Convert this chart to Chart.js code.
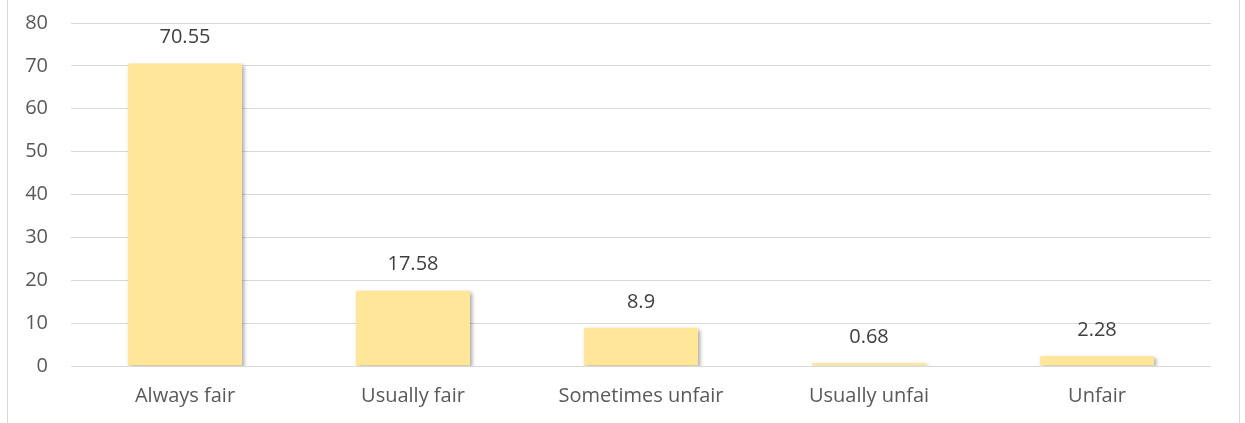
<!DOCTYPE html>
<html>
<head>
<meta charset="utf-8">
<script src="https://cdn.jsdelivr.net/npm/chart.js@4"></script>
<style>
  html, body { margin: 0; padding: 0; background: #fff; }
  #wrap { position: relative; width: 1245px; height: 423px; }
  #wrap:before, #wrap:after { content: ''; position: absolute; top: 0; bottom: 0; width: 1px; background: #d9d9d9; }
  #wrap:before { left: 7px; }
  #wrap:after { left: 1239px; }
</style>
</head>
<body>
<div id="wrap"><canvas id="fairChart" width="1245" height="423"></canvas></div>
<script>
// chart data
var categories = ['Always fair', 'Usually fair', 'Sometimes unfair', 'Usually unfai', 'Unfair']
var values = [70.55, 17.58, 8.9, 0.68, 2.28]
var yTicks = [0, 10, 20, 30, 40, 50, 60, 70, 80]

var font = '"Open Sans", "Liberation Sans", sans-serif'

// soft shadow behind the bars, like the office chart
var barShadow = {
    id: 'barShadow',
    beforeDatasetsDraw: function (chart) {
        var c = chart.ctx
        c.save()
        c.shadowColor = 'rgba(0, 0, 0, 0.35)'
        c.shadowBlur = 4
        c.shadowOffsetX = 2
        c.shadowOffsetY = 2
    },
    afterDatasetsDraw: function (chart) {
        chart.ctx.restore()
    }
}

// value labels above each bar
var valueLabels = {
    id: 'valueLabels',
    afterDraw: function (chart) {
        var c = chart.ctx
        var meta = chart.getDatasetMeta(0)
        c.save()
        c.font = '20px ' + font
        c.fillStyle = '#404040'
        c.textAlign = 'center'
        c.textBaseline = 'middle'
        meta.data.forEach(function (bar, i) {
            c.fillText(String(values[i]), bar.x, bar.y - 26)
        })
        c.restore()
    }
}

var ctx = document.getElementById('fairChart').getContext('2d')
var chart = new Chart(ctx, {
    type: 'bar',
    data: {
        labels: categories,
        datasets: [{
            data: values,
            backgroundColor: '#ffe699',
            borderWidth: 0,
            categoryPercentage: 1,
            barPercentage: 0.5
        }]
    },
    options: {
        responsive: false,
        animation: false,
        layout: { padding: { top: 23, right: 34, left: 0, bottom: 0 } },
        plugins: {
            legend: { display: false },
            tooltip: { enabled: false }
        },
        scales: {
            x: {
                grid: { display: false, drawTicks: false },
                border: { display: false },
                ticks: { color: '#595959', font: { family: font, size: 20 }, padding: 18 },
                afterFit: function (scale) {
                    scale.height = 57
                    scale.paddingLeft = 0
                    scale.paddingRight = 0
                }
            },
            y: {
                min: 0,
                max: 80,
                afterBuildTicks: function (scale) {
                    scale.ticks = yTicks.map(function (v) { return { value: v } })
                },
                grid: { color: '#d9d9d9', lineWidth: 1, drawTicks: false },
                border: { display: false },
                ticks: { color: '#595959', font: { family: font, size: 20 }, padding: 23 },
                afterFit: function (scale) {
                    scale.width = 71
                    scale.paddingTop = 0
                    scale.paddingBottom = 0
                }
            }
        }
    },
    plugins: [barShadow, valueLabels]
})
</script>
</body>
</html>
